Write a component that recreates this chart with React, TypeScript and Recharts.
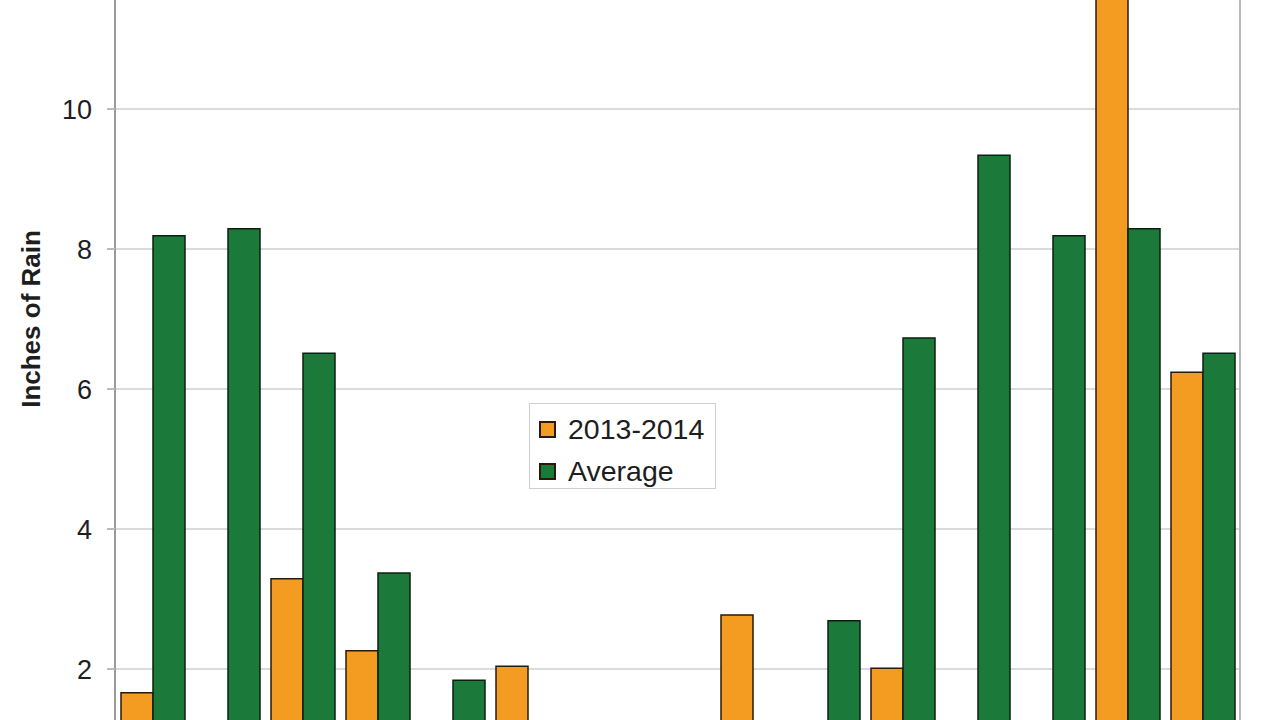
import React from "react";
import {
  BarChart,
  Bar,
  XAxis,
  YAxis,
  CartesianGrid,
  Legend,
} from "recharts";

// ─── Data ─────────────────────────────────────────────────────────────────────

const months = [
  "Jan", "Feb", "Mar", "Apr", "May", "Jun", "Jul", "Aug",
  "Sep", "Oct", "Nov", "Dec", "Jan ", "Feb ", "Mar ",
];

// rain this season (inches); values under ~1.2 are cut off in the picture, estimated
const season2013 = [1.66, 0.9, 3.29, 2.26, 0.5, 2.04, 0.1, 0.2, 2.77, 0.3, 2.01, 0.8, 0.3, 12.3, 6.24];
const average = [8.19, 8.29, 6.51, 3.37, 1.84, 0.8, 0.2, 0.3, 0.9, 2.69, 6.73, 9.34, 8.19, 8.29, 6.51];

// only the ticks that fall inside the cropped view
const yTicks = [2, 4, 6, 8, 10];

const data = months.map((m, i) => ({
  month: m,
  season: season2013[i],
  average: average[i],
}));

// ─── Style ────────────────────────────────────────────────────────────────────

const ORANGE = "#F49B22";
const GREEN = "#1B7A3A";
const FONT = "'Liberation Sans', Arial, sans-serif";

function RainLegend() {
  const rows = [
    { label: "2013-2014", color: ORANGE },
    { label: "Average", color: GREEN },
  ];
  return (
    <div
      style={{
        width: 187,
        height: 86,
        border: "1px solid #cfcfcf",
        background: "white",
        boxSizing: "border-box",
        padding: "6px 0 0 9px",
        fontFamily: FONT,
        fontSize: 28.5,
        color: "#1e1e1e",
      }}
    >
      {rows.map((r) => (
        <div
          key={r.label}
          style={{ display: "flex", alignItems: "center", height: 38, marginBottom: 4 }}
        >
          <span
            style={{
              display: "inline-block",
              width: 13,
              height: 13,
              background: r.color,
              border: "2px solid #2a1a0a",
              marginRight: 12,
            }}
          />
          <span>{r.label}</span>
        </div>
      ))}
    </div>
  );
}

export default function App() {
  return (
    <div
      style={{
        position: "absolute",
        left: 0,
        top: 0,
        width: 1279,
        height: 720,
        overflow: "hidden",
        background: "white",
      }}
    >
      <div style={{ position: "absolute", left: 0, top: -171 }}>
        <BarChart
          width={1279}
          height={1020}
          data={data}
          margin={{ top: 0, right: 38, bottom: 10, left: 0 }}
          barSize={32}
          barGap={0}
        >
          <CartesianGrid
            yAxisId="left"
            vertical={false}
            stroke="#dadada"
            strokeWidth={2}
          />
          <XAxis
            dataKey="month"
            height={30}
            tick={false}
            tickLine={false}
            axisLine={{ stroke: "#999", strokeWidth: 2 }}
          />
          <YAxis
            yAxisId="left"
            width={115}
            domain={[0, 14]}
            ticks={yTicks}
            tickSize={8}
            tickMargin={15}
            tick={{ fontSize: 27, fill: "#1e1e1e", fontFamily: FONT }}
            axisLine={{ stroke: "#9a9a9a", strokeWidth: 2 }}
            tickLine={{ stroke: "#bbb", strokeWidth: 2 }}
            label={{
              value: "Inches of Rain",
              angle: -90,
              position: "insideLeft",
              offset: 31,
              style: {
                textAnchor: "middle",
                fontSize: 26,
                fontWeight: 700,
                fill: "#1e1e1e",
                fontFamily: FONT,
              },
            }}
          />
          {/* right-hand frame line */}
          <YAxis
            yAxisId="right"
            orientation="right"
            width={1}
            domain={[0, 14]}
            tick={false}
            tickLine={false}
            axisLine={{ stroke: "#b8b8b8", strokeWidth: 2 }}
          />
          <Legend
            layout="vertical"
            align="center"
            verticalAlign="middle"
            wrapperStyle={{ position: "absolute", left: 529, top: 574, width: 187 }}
            content={() => <RainLegend />}
          />
          <Bar
            yAxisId="left"
            dataKey="season"
            name="2013-2014"
            fill={ORANGE}
            stroke="#2a1a0a"
            strokeWidth={1.5}
            isAnimationActive={false}
          />
          <Bar
            yAxisId="left"
            dataKey="average"
            name="Average"
            fill={GREEN}
            stroke="#0d1f12"
            strokeWidth={1.5}
            isAnimationActive={false}
          />
        </BarChart>
      </div>
    </div>
  );
}
